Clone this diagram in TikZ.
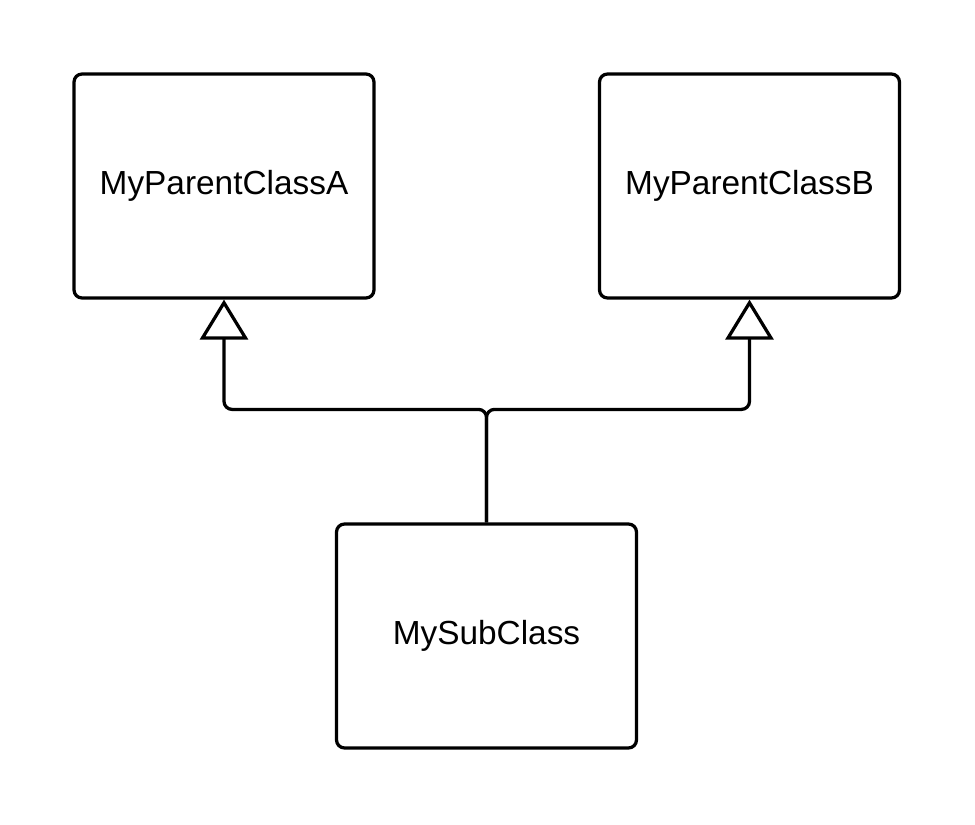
\documentclass[tikz,border=0pt]{standalone}
\usepackage{fontspec}
\setmainfont{Liberation Sans}
\usetikzlibrary{arrows.meta}

\tikzset{
  classbox/.style={draw=black, line width=0.065cm, rounded corners=0.16cm,
    minimum width=6cm, minimum height=4.48cm, inner sep=0pt,
    font=\fontsize{19}{23}\selectfont},
  inherit/.style={draw=black, line width=0.065cm, rounded corners=0.16cm,
    -{Triangle[open, length=0.8cm, width=0.96cm]}}
}

\begin{document}
\begin{tikzpicture}[x=0.02cm, y=-0.02cm]
  \useasboundingbox (0,0) rectangle (975,825);

  % the classes
  \node[classbox] (parentA) at (224,186) {MyParentClassA};
  \node[classbox] (parentB) at (749.5,186) {MyParentClassB};
  \node[classbox] (sub) at (486.5,636) {MySubClass};

  % generalisation
  \draw[inherit] (sub.north) -- ++(0,-113) -| (parentA.south);
  \draw[inherit] (sub.north) -- ++(0,-113) -| (parentB.south);
\end{tikzpicture}
\end{document}
